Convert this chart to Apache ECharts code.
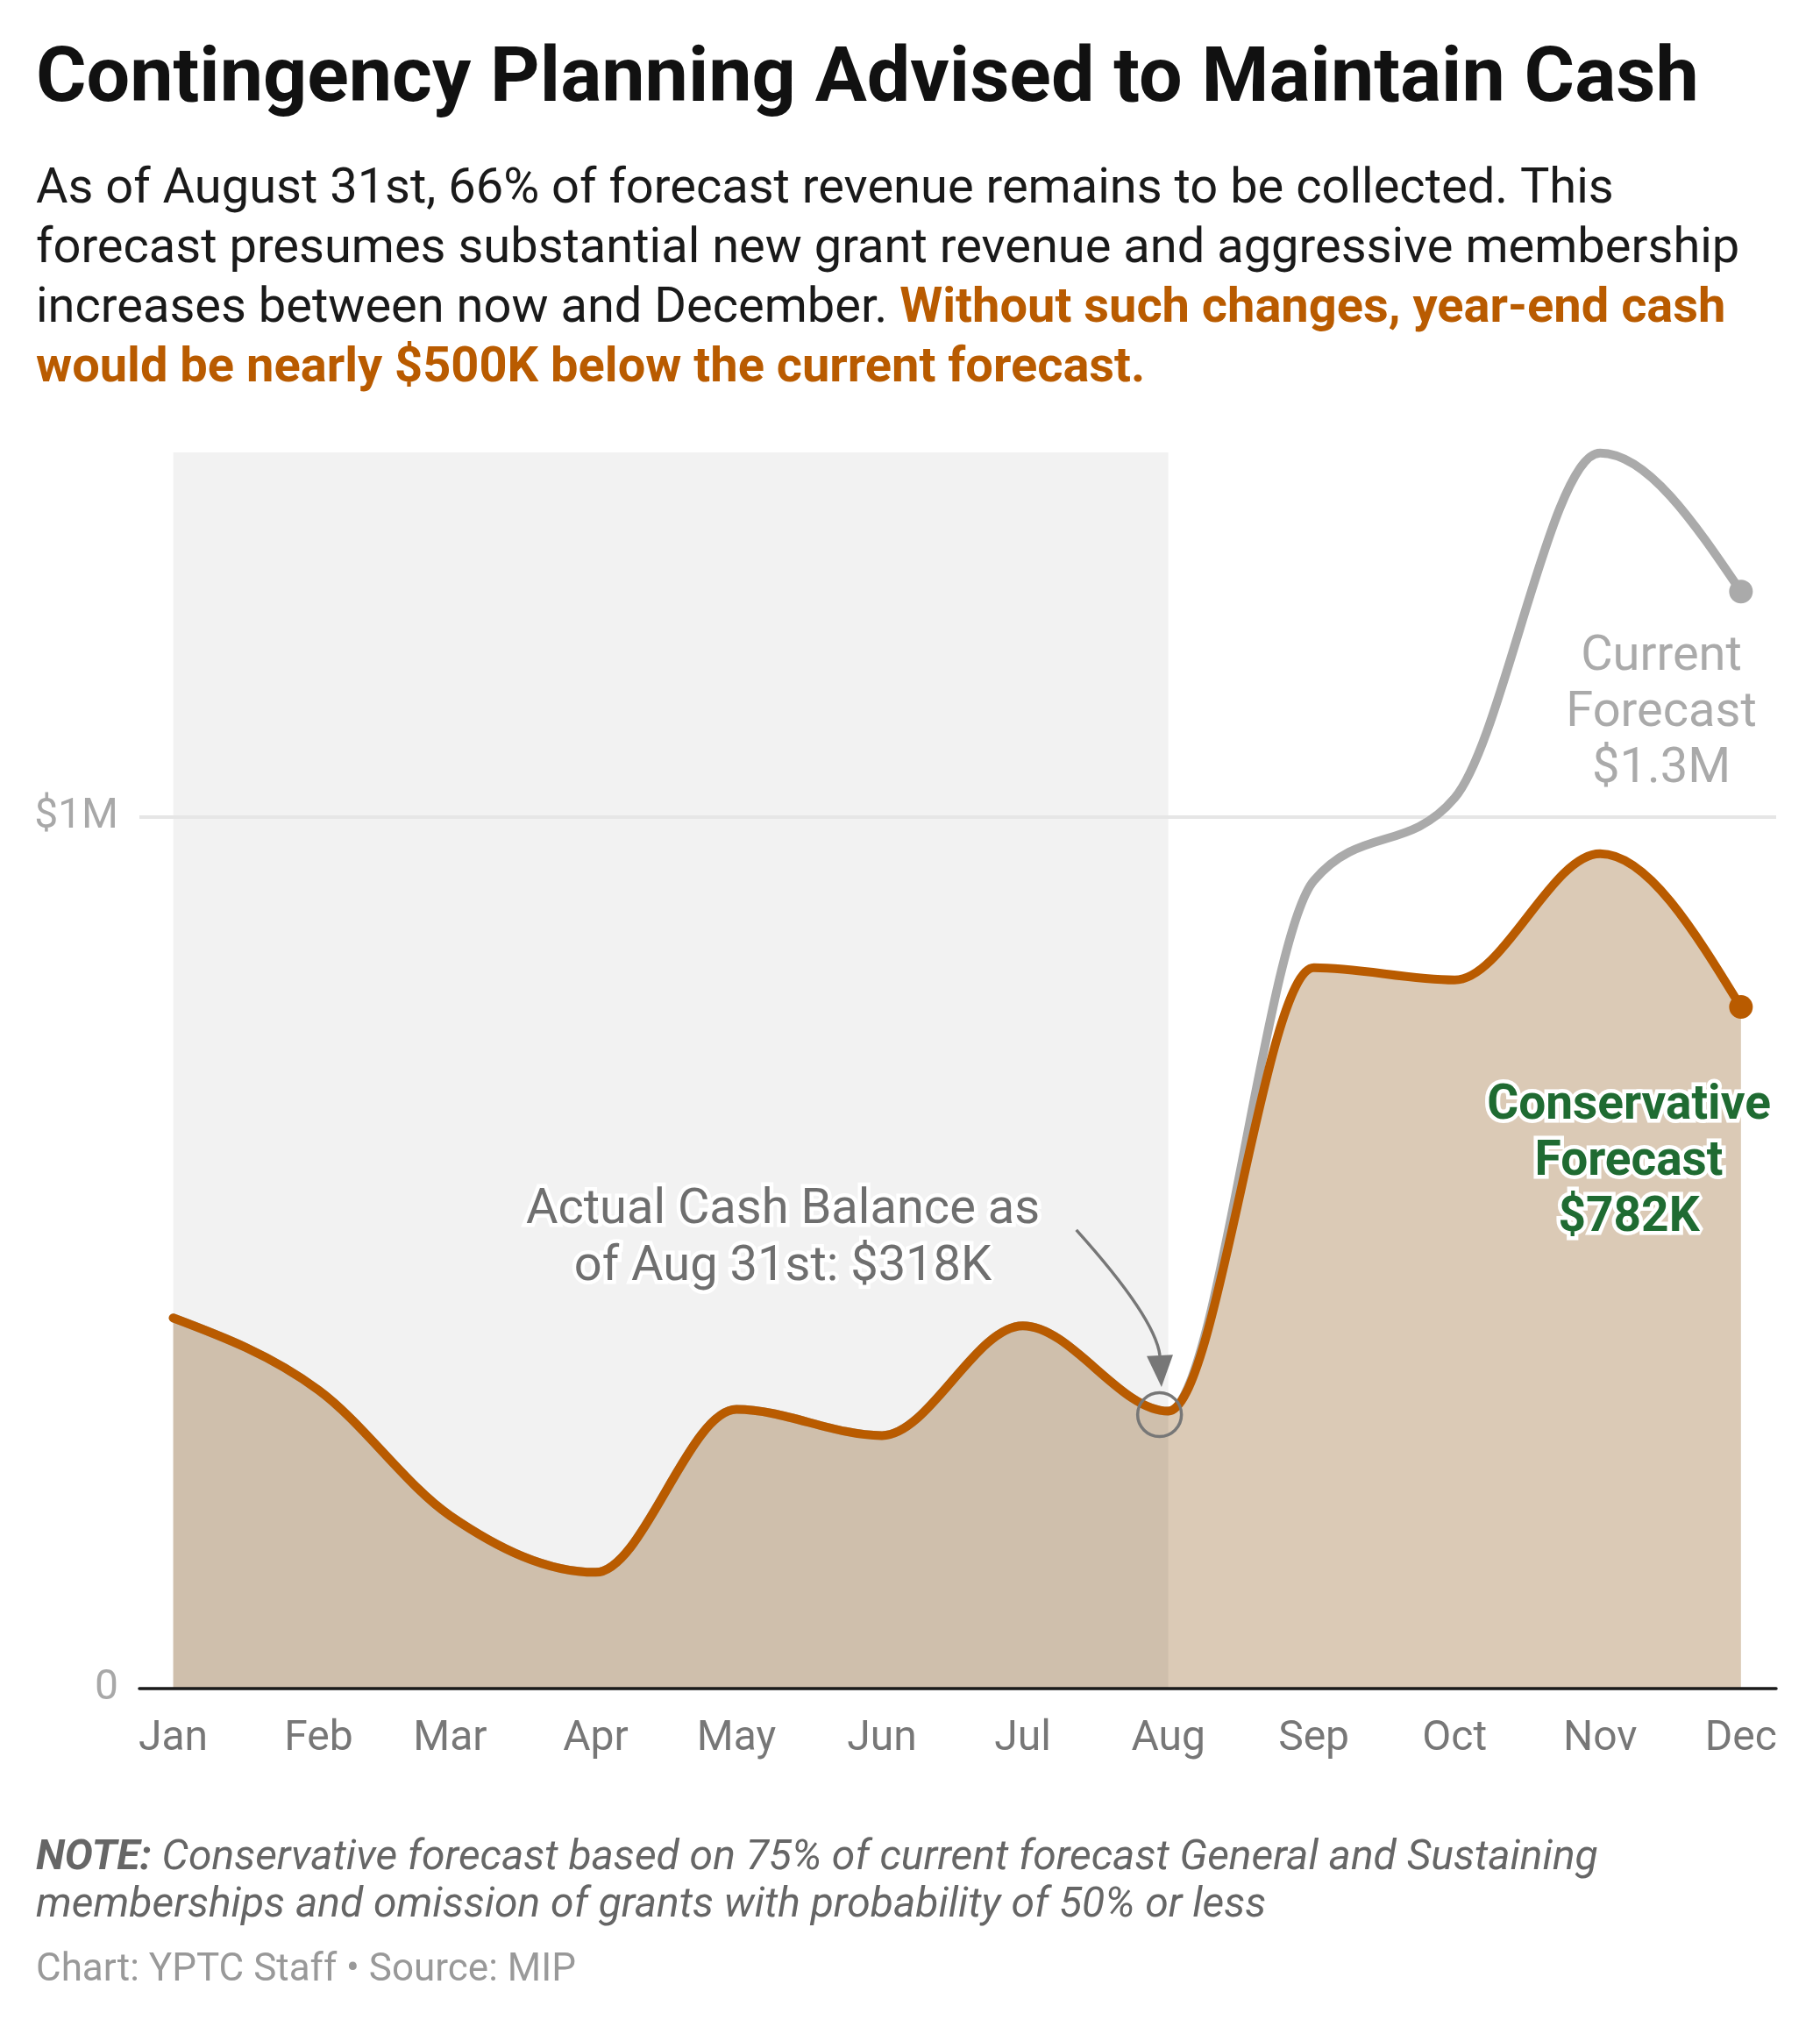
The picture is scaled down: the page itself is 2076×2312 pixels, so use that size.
<!DOCTYPE html>
<html><head><meta charset="utf-8">
<script src="https://cdn.jsdelivr.net/npm/echarts@6/dist/echarts.min.js"></script>
<style>html,body{margin:0;padding:0;background:#fff}#c{width:2076px;height:2312px}</style>
</head><body><div id="c"></div>
<script>
// ---- data ----
const months = ['Jan','Feb','Mar','Apr','May','Jun','Jul','Aug','Sep','Oct','Nov','Dec'];
const monthDates = ['2023-01-01','2023-02-01','2023-03-01','2023-04-01','2023-05-01','2023-06-01',
                    '2023-07-01','2023-08-01','2023-09-01','2023-10-01','2023-11-01','2023-12-01'];
const actualCash = [425000, 342000, 198000, 133000, 320000, 290000, 416000, 318000];   // Jan–Aug
const currentForecast = [927000, 1022000, 1418000, 1259000];                            // Sep–Dec
const conservativeForecast = [827000, 813000, 958000, 782000];                          // Sep–Dec
const yTickValues = [0, 1000000];
const yTickLabels = ['0', '$1M'];

// ---- derived ----
const DAY = 86400000;
const t0 = Date.UTC(2023, 0, 1);
const dayOf = s => { const [y, m, d] = s.split('-').map(Number); return Math.round((Date.UTC(y, m - 1, d) - t0) / DAY); };
const monthDays = monthDates.map(dayOf);
const augIdx = 7;
const currentSeries = actualCash.concat(currentForecast).map((v, i) => [monthDays[i], v]);
const conservSeries = actualCash.concat(conservativeForecast).map((v, i) => [monthDays[i], v]);

const FONT = 'Roboto';
const ORANGE = '#b95b00', GRAY = '#aaaaaa';

// monotone-X cubic path through pixel points (same scheme as d3.curveMonotoneX)
function sgn(x) { return x < 0 ? -1 : 1; }
function slope3(p0, p1, p2) {
  const h0 = p1[0] - p0[0], h1 = p2[0] - p1[0];
  const s0 = (p1[1] - p0[1]) / h0, s1 = (p2[1] - p1[1]) / h1;
  const p = (s0 * h1 + s1 * h0) / (h0 + h1);
  return (sgn(s0) + sgn(s1)) * Math.min(Math.abs(s0), Math.abs(s1), 0.5 * Math.abs(p)) || 0;
}
function slope2(p0, p1, t) { const h = p1[0] - p0[0]; return h ? (3 * (p1[1] - p0[1]) / h - t) / 2 : t; }
function monotonePath(pts) {
  const n = pts.length, t = new Array(n);
  for (let i = 1; i < n - 1; i++) t[i] = slope3(pts[i - 1], pts[i], pts[i + 1]);
  t[0] = slope2(pts[0], pts[1], t[1]);
  t[n - 1] = slope2(pts[n - 2], pts[n - 1], t[n - 2]);
  let d = 'M' + pts[0][0] + ',' + pts[0][1];
  for (let i = 1; i < n; i++) {
    const a = pts[i - 1], b = pts[i], dx = (b[0] - a[0]) / 3;
    d += ' C' + (a[0] + dx) + ',' + (a[1] + dx * t[i - 1]) + ' ' + (b[0] - dx) + ',' + (b[1] - dx * t[i]) + ' ' + b[0] + ',' + b[1];
  }
  return d;
}
function curveSeries(name, points, z, style, area) {
  return {
    name, type: 'custom', z, silent: true, data: points,
    encode: { x: 0, y: 1 },
    renderItem: (params, api) => {
      if (params.dataIndex !== 0) return null;
      const px = points.map(p => api.coord(p));
      let d = monotonePath(px);
      if (area) {
        const base = api.coord([0, 0])[1];
        d += ' L' + px[px.length - 1][0] + ',' + base + ' L' + px[0][0] + ',' + base + ' Z';
      }
      return { type: 'path', shape: { pathData: d }, style };
    }
  };
}

// annotation arrow (start, control, line end, tip) in data coordinates
const arrowStart = [192.4, 526000], arrowCtrl = [209.2, 425300], arrowEnd = [210.2, 382000], arrowTip = [210.55, 345700];

const chart = echarts.init(document.getElementById('c'), null, { renderer: 'canvas' });

const txt = (x, y, text, style) => ({
  type: 'text', x, y, z: 100, silent: true,
  style: Object.assign({ text, fontFamily: FONT, verticalAlign: 'middle', align: 'left' }, style)
});
const halo = { stroke: '#fff', lineWidth: 9, strokeFirst: true };

chart.setOption({
  animation: false,
  backgroundColor: '#fff',
  grid: { left: 159, right: 50, top: 516, bottom: 386.5, containLabel: false },
  xAxis: {
    type: 'value', min: -7.2, max: 341.5, z: 6,
    axisLine: { show: true, lineStyle: { color: '#1a1a1a', width: 3.5 } },
    axisTick: { show: false }, splitLine: { show: false },
    axisLabel: {
      customValues: monthDays,
      formatter: v => months[monthDays.indexOf(v)] || '',
      color: '#777', fontSize: 48, fontFamily: FONT, margin: 34
    }
  },
  yAxis: {
    type: 'value', min: 0, max: 1418700,
    axisLine: { show: false }, axisTick: { show: false }, splitLine: { show: false },
    axisLabel: {
      customValues: yTickValues,
      formatter: v => yTickLabels[yTickValues.indexOf(v)] || '',
      color: '#a8a8a8', fontSize: 48, fontFamily: FONT, margin: 24
    }
  },
  series: [
    curveSeries('fill', conservSeries, 0, { fill: '#dbcab6', stroke: null }, true),
    { // shaded actuals region and gridline
      name: 'markers', type: 'line', data: [], silent: true,
      markArea: { silent: true, z: 1, itemStyle: { color: 'rgba(0,0,0,0.05)' },
        data: [[{ xAxis: monthDays[0] }, { xAxis: monthDays[augIdx] }]] },
      markLine: { silent: true, z: 1, symbol: ['none', 'none'], label: { show: false },
        lineStyle: { color: '#e6e6e6', width: 4, type: 'solid' },
        data: [{ yAxis: yTickValues[1] }] }
    },
    curveSeries('Current Forecast', currentSeries, 3,
      { fill: null, stroke: GRAY, lineWidth: 10, lineCap: 'round', lineJoin: 'round' }, false),
    curveSeries('Conservative Forecast', conservSeries, 4,
      { fill: null, stroke: ORANGE, lineWidth: 10, lineCap: 'round', lineJoin: 'round' }, false),
    {
      name: 'ends', type: 'scatter', z: 5, silent: true, symbolSize: 27,
      data: [
        { value: currentSeries[currentSeries.length - 1], itemStyle: { color: GRAY, opacity: 1 } },
        { value: conservSeries[conservSeries.length - 1], itemStyle: { color: ORANGE, opacity: 1 } }
      ],
      markPoint: {
        silent: true, z: 6,
        data: [{ coord: [monthDays[augIdx], actualCash[augIdx]], symbol: 'circle', symbolSize: 50,
          symbolOffset: [-10, 4],
          itemStyle: { color: 'rgba(0,0,0,0)', borderColor: '#777', borderWidth: 3.5, opacity: 1 }, label: { show: false } }]
      }
    },
    { // curved annotation arrow
      name: 'arrow', type: 'custom', z: 6, silent: true, data: [arrowStart],
      encode: { x: 0, y: 1 },
      renderItem: (params, api) => {
        const s = api.coord(arrowStart), c = api.coord(arrowCtrl), e = api.coord(arrowEnd), t = api.coord(arrowTip);
        const dx = t[0] - e[0], dy = t[1] - e[1], L = Math.hypot(dx, dy) || 1;
        const nx = -dy / L * 15, ny = dx / L * 15;
        return { type: 'group', children: [
          { type: 'bezierCurve', shape: { x1: s[0], y1: s[1], cpx1: c[0], cpy1: c[1], x2: e[0], y2: e[1] },
            style: { stroke: '#777', lineWidth: 3.5, fill: null } },
          { type: 'polygon', shape: { points: [[t[0], t[1]], [e[0] + nx, e[1] + ny], [e[0] - nx, e[1] - ny]] },
            style: { fill: '#777', stroke: null } }
        ] };
      }
    }
  ],
  graphic: [
    txt(41, 93, 'Contingency Planning Advised to Maintain Cash', { fontSize: 88, fontWeight: 'bold', fill: '#111' }),
    txt(41, 217, 'As of August 31st, 66% of forecast revenue remains to be collected. This', { fontSize: 56, fill: '#1a1a1a' }),
    txt(41, 285, 'forecast presumes substantial new grant revenue and aggressive membership', { fontSize: 56, fill: '#1a1a1a' }),
    txt(41, 353, 'increases between now and December. {o|Without such changes, year-end cash}', {
      fontSize: 56, fill: '#1a1a1a',
      rich: { o: { fontSize: 56, fontWeight: 'bold', fill: ORANGE, fontFamily: FONT } } }),
    txt(41, 421, 'would be nearly $500K below the current forecast.', { fontSize: 56, fontWeight: 'bold', fill: ORANGE }),

    txt(893, 1381, 'Actual Cash Balance as', Object.assign({ fontSize: 56, fill: '#6f6f6f', align: 'center' }, halo)),
    txt(893, 1446, 'of Aug 31st: $318K', Object.assign({ fontSize: 56, fill: '#6f6f6f', align: 'center' }, halo)),

    txt(1895, 750, 'Current', { fontSize: 56, fill: GRAY, align: 'center' }),
    txt(1895, 814, 'Forecast', { fontSize: 56, fill: GRAY, align: 'center' }),
    txt(1895, 878, '$1.3M', { fontSize: 56, fill: GRAY, align: 'center' }),

    txt(1858, 1262, 'Conservative', Object.assign({ fontSize: 55, fontWeight: 'bold', fill: '#1f6b32', align: 'center' }, halo)),
    txt(1858, 1326, 'Forecast', Object.assign({ fontSize: 55, fontWeight: 'bold', fill: '#1f6b32', align: 'center' }, halo)),
    txt(1858, 1390, '$782K', Object.assign({ fontSize: 55, fontWeight: 'bold', fill: '#1f6b32', align: 'center' }, halo)),

    txt(41, 2120, '{b|NOTE:} Conservative forecast based on 75% of current forecast General and Sustaining', {
      fontSize: 48, fontStyle: 'italic', fill: '#666',
      rich: { b: { fontSize: 48, fontStyle: 'italic', fontWeight: 'bold', fill: '#666', fontFamily: FONT } } }),
    txt(41, 2174, 'memberships and omission of grants with probability of 50% or less', { fontSize: 48, fontStyle: 'italic', fill: '#666' }),
    txt(41, 2248, 'Chart: YPTC Staff • Source: MIP', { fontSize: 44, fill: '#999' })
  ]
});
</script></body></html>
